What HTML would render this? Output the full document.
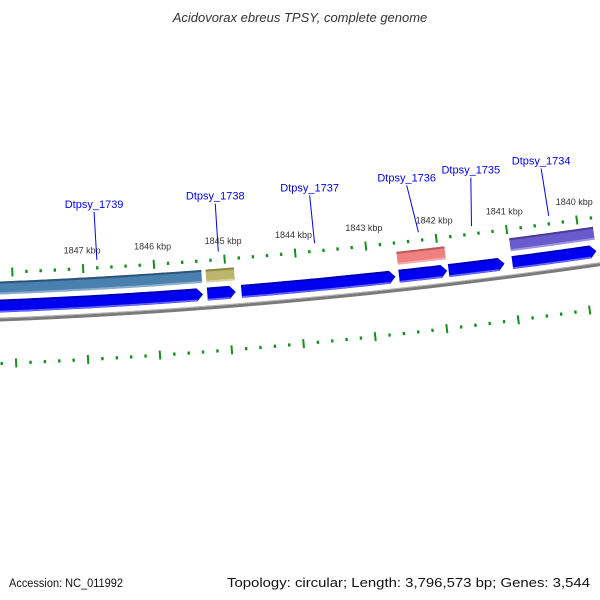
<!DOCTYPE html>
<html><head><meta charset="utf-8"><style>
html,body{margin:0;padding:0;background:#fff;}
svg{display:block;font-family:"Liberation Sans",sans-serif;}
</style></head><body>
<svg id="map" width="600" height="600" viewBox="0 0 600 600" xmlns="http://www.w3.org/2000/svg">
<rect width="600" height="600" fill="#fff"/>
<text x="300" y="22" text-anchor="middle" font-size="13" font-style="italic" fill="#333">Acidovorax ebreus TPSY, complete genome</text>
<g id="ticks"></g>
<g id="features"></g>
<g id="labels"></g>
<text x="9" y="587" font-size="11.5" fill="#111" textLength="114" lengthAdjust="spacingAndGlyphs">Accession: NC_011992</text>
<text x="227" y="587" font-size="13" fill="#111" textLength="363" lengthAdjust="spacingAndGlyphs">Topology: circular; Length: 3,796,573 bp; Genes: 3,544</text>
</svg>
<script>
const geneNames = ['Dtpsy_1739','Dtpsy_1738','Dtpsy_1737','Dtpsy_1736','Dtpsy_1735','Dtpsy_1734'];
const geneStart = [1848.26,1845.28,1844.80,1842.58,1841.88,1840.98];
const geneEnd = [1845.34,1844.88,1842.63,1841.90,1841.09,1839.79];
const geneHasBox = [true,true,false,true,false,true];
const geneBoxColor = ['#4a80b0','#bcb66c','','#f08080','','#6a5acd'];
const geneBoxEdge = ['#2d5577','#8c8640','','#b85a5a','','#4a3c98'];
const labelKbp = [1846.80,1845.07,1843.72,1842.33,1841.41,1840.40];
const tickMin = 1836, tickMax = 1852;
const tickLabelMin = 1840, tickLabelMax = 1847;

const NS='http://www.w3.org/2000/svg';
const cx=-226, cy=-5405;
function theta(p){return 0.05443+(1847-p)*0.012477;}
function pt(r,p){const t=theta(p);return [cx+r*Math.sin(t), cy+r*Math.cos(t)];}
function mk(tag,attrs,parent){const e=document.createElementNS(NS,tag);for(const k in attrs)e.setAttribute(k,attrs[k]);parent.appendChild(e);return e;}
function arcPts(r,p1,p2){const n=40,a=[];for(let i=0;i<=n;i++){const p=p1+(p2-p1)*i/n;a.push(pt(r,p));}return a;}
function band(r1,r2,p1,p2){const a=arcPts(r1,p1,p2),b=arcPts(r2,p2,p1);return 'M'+a.concat(b).map(q=>q[0].toFixed(2)+','+q[1].toFixed(2)).join(' L')+' Z';}
function line(r,p1,p2){return 'M'+arcPts(r,p1,p2).map(q=>q[0].toFixed(2)+','+q[1].toFixed(2)).join(' L');}

const gT=document.getElementById('ticks'), gF=document.getElementById('features'), gL=document.getElementById('labels');

let bb=mk('path',{d:line(5729.5,1851,1835),stroke:'#7a7a7a','stroke-width':3,fill:'none'},gF);


let bb2=mk('path',{d:line(5727.5,1851,1835),stroke:'#b0b0b0','stroke-width':1,fill:'none'},gF);



for(let k=tickMin*10;k<=tickMax*10;k+=2){
  const p=k/10, major=(k%10===0);
  [[5682,'top'],[5773,'bottom']].forEach(([rc,ring])=>{
    const h=major?4.5:1.6;
    const a=pt(rc-h,p), b=pt(rc+h,p);
    const l=mk('line',{x1:a[0],y1:a[1],x2:b[0],y2:b[1],stroke:'#14901e','stroke-width':major?2:2.4},gT);
    
    
  });
  if(major && p>=tickLabelMin && p<=tickLabelMax){
    const c=pt(5664,p);
    const t=mk('text',{x:c[0],y:c[1]+3,'text-anchor':'middle','font-size':'9',fill:'#333'},gT);
    t.textContent=p+' kbp';
    
    
  }
}

const headKbp=0.085;
for(let i=0;i<geneNames.length;i++){
  const s=geneStart[i], e=geneEnd[i];
  if(geneHasBox[i]){
    const bx=mk('path',{d:band(5691,5704,s,e),fill:geneBoxColor[i]},gF);
    
    
    const ed=mk('path',{d:line(5692,s,e),stroke:geneBoxEdge[i],'stroke-width':2,fill:'none'},gF);
    
    
    const lt=mk('path',{d:line(5703,s,e),stroke:'#ffffff','stroke-opacity':0.35,'stroke-width':2,fill:'none'},gF);
    
    
  }
  const bodyEnd=e+headKbp;
  const top=arcPts(5709,s,bodyEnd), bot=arcPts(5722,bodyEnd,s), tip=pt(5715.5,e);
  const pts=top.concat([tip]).concat(bot);
  const ar=mk('path',{d:'M'+pts.map(q=>q[0].toFixed(2)+','+q[1].toFixed(2)).join(' L')+' Z',fill:'#0000f0'},gF);
  
  
  const ae=mk('path',{d:line(5710,s,bodyEnd),stroke:'#0000a8','stroke-width':1.5,fill:'none'},gF);
  
  
  const as=mk('path',{d:line(5721,s,bodyEnd),stroke:'#6a6aff','stroke-width':1.5,fill:'none'},gF);
  
  

  const mid=(s+e)/2;
  const b=pt(5674,mid), t=pt(5626,labelKbp[i]);
  const ln=mk('line',{x1:b[0],y1:b[1],x2:t[0],y2:t[1],stroke:'#0000ff','stroke-width':1},gL);
  
  
  const tx=mk('text',{x:t[0],y:t[1]-4,'text-anchor':'middle','font-size':'11',fill:'#0000ff'},gL);
  tx.textContent=geneNames[i];
  
  
}
</script>
</body></html>
